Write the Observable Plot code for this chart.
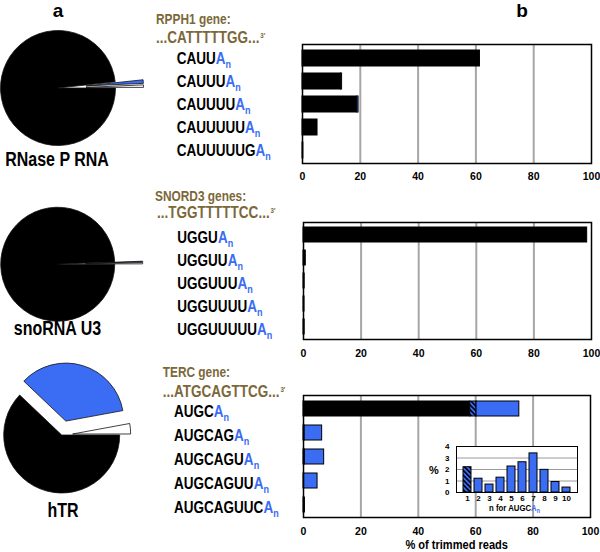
<!DOCTYPE html>
<html><head><meta charset="utf-8">
<script src="https://cdn.jsdelivr.net/npm/d3@7"></script>
<script src="https://cdn.jsdelivr.net/npm/@observablehq/plot@0.6"></script>
<style>
html,body{margin:0;padding:0;background:#fff;}
#fig{position:relative;width:600px;height:552px;overflow:hidden;background:#fff;}
#fig svg{position:absolute;}
</style></head><body><div id="fig"></div>
<script>
// ---------------- data ----------------
const pieNames = ["RNase P RNA", "snoRNA U3", "hTR"];
const pieParts = ["not adenylated", "adenylated", "other"];
const pieRNaseP = [98.3, 1.0, 0.7];
const pieU3 = [99.4, 0.2, 0.4];
const pieHTR = [62.1, 35.0, 2.9];

const rpph1Title = "RPPH1 gene:";
const rpph1Gene = "...CATTTTTGG...";
const rpph1Seqs = ["CAUU", "CAUUU", "CAUUUU", "CAUUUUU", "CAUUUUUG"];
const rpph1Plain = [61.4, 13.3, 19.0, 5.2, 0.3];
const rpph1Hatched = [0, 0, 0, 0, 0];
const rpph1Tail = [0, 0.4, 0.4, 0, 0];

const snord3Title = "SNORD3 genes:";
const snord3Gene = "...TGGTTTTTCC...";
const snord3Seqs = ["UGGU", "UGGUU", "UGGUUU", "UGGUUUU", "UGGUUUUU"];
const snord3Plain = [98.5, 0.8, 0.4, 0.35, 0.4];
const snord3Hatched = [0, 0, 0, 0, 0];
const snord3Tail = [0, 0, 0, 0, 0];

const tercTitle = "TERC gene:";
const tercGene = "...ATGCAGTTCG...";
const tercSeqs = ["AUGC", "AUGCAG", "AUGCAGU", "AUGCAGUU", "AUGCAGUUC"];
const tercPlain = [58.1, 0.4, 0.5, 0.2, 0.5];
const tercHatched = [2.2, 0, 0, 0, 0];
const tercTail = [14.9, 6.1, 6.7, 4.7, 0];

const xTicks = [0, 20, 40, 60, 80, 100];
const xTitle = "% of trimmed reads";

const insetN = ["1", "2", "3", "4", "5", "6", "7", "8", "9", "10"];
const insetPct = [2.2, 1.2, 0.69, 1.29, 2.26, 2.63, 3.4, 1.97, 0.91, 0.43];
const insetYTicks = [0, 1, 2, 3, 4];

// ---------------- style ----------------
const BLUE = "#3a6cf4", BROWN = "#7b6839";
const SANS = "'Liberation Sans',Arial,sans-serif";
const SX = 0.82; // horizontal squeeze to mimic a narrow bold face
const fig = document.getElementById("fig");

function place(svg, left, top) {
  svg.style.left = left + "px";
  svg.style.top = top + "px";
  fig.appendChild(svg);
}
function hatchDefs(id) {
  return () => {
    const defs = d3.create("svg:defs");
    const p = defs.append("pattern").attr("id", id).attr("patternUnits", "userSpaceOnUse")
      .attr("width", 3.4).attr("height", 3.4).attr("patternTransform", "rotate(-45)");
    p.append("rect").attr("width", 3.4).attr("height", 3.4).attr("fill", BLUE);
    p.append("rect").attr("width", 1.6).attr("height", 3.4).attr("fill", "black");
    return defs.node();
  };
}
function custom(fn) {
  return (index, scales, values, dims) => {
    const g = d3.create("svg:g");
    fn(g, scales, dims);
    return g.node();
  };
}
function ntext(g, x, y, fs, anchor = "start", fill = "black") {
  return g.append("g").attr("transform", `translate(${x},${y}) scale(${SX},1)`)
    .append("text").attr("text-anchor", anchor).attr("font-family", SANS)
    .attr("font-weight", "bold").attr("font-size", fs).attr("fill", fill);
}
function addAn(t, sub, dy) {
  t.append("tspan").attr("fill", BLUE).text("A");
  t.append("tspan").attr("fill", BLUE).attr("font-size", sub).attr("dy", dy).text("n");
}

// ---------------- pies ----------------
const pieColors = ["black", BLUE, "white"];
function pieMark(values, cx, cy, r, explode) {
  return custom((g) => {
    const arcs = d3.pie().sort(null).startAngle(Math.PI / 2).endAngle(Math.PI / 2 + 2 * Math.PI)(values);
    const arc = d3.arc().innerRadius(0).outerRadius(r);
    arcs.forEach((a, i) => {
      const mid = (a.startAngle + a.endAngle) / 2;
      const dx = Math.sin(mid) * explode[i], dy = -Math.cos(mid) * explode[i];
      g.append("path").attr("d", arc(a))
        .attr("transform", `translate(${cx + dx},${cy + dy})`)
        .attr("fill", pieColors[i]).attr("stroke", "#111").attr("stroke-width", 0.8)
        .attr("stroke-linejoin", "round");
    });
  });
}
const pieLabelPos = [[57, 165.7], [57.5, 335], [63, 516.7]];
const piePlot = Plot.plot({
  width: 150, height: 552, margin: 0,
  style: {background: "transparent", overflow: "visible"},
  marks: [
    pieMark(pieRNaseP, 58, 88, 57.5, [0, 28, 28]),
    pieMark(pieU3, 57.7, 264.2, 57, [0, 28, 28]),
    pieMark(pieHTR, 61.7, 435, 58, [0, 14.5, 11]),
    custom((g) => {
      g.append("text").attr("x", 58).attr("y", 17).attr("text-anchor", "middle")
        .attr("font-family", SANS).attr("font-weight", "bold").attr("font-size", 19).text("a");
      pieNames.forEach((n, i) => {
        ntext(g, pieLabelPos[i][0], pieLabelPos[i][1], 19.5, "middle").text(n);
      });
    })
  ]
});
place(piePlot, 0, 0);

// ---------------- bar panels ----------------
function rows(seqs, plain, hatched, tail) {
  const out = [];
  seqs.forEach((s, i) => {
    if (plain[i] > 0) out.push({seq: s, part: "plain", value: plain[i]});
    if (hatched[i] > 0) out.push({seq: s, part: "hatched", value: hatched[i]});
    if (tail[i] > 0) out.push({seq: s, part: "tail", value: tail[i]});
  });
  return out;
}
function barPanel(o) {
  const plot = Plot.plot({
    width: 450, height: o.height,
    marginTop: o.mt, marginBottom: o.mb, marginLeft: o.ml, marginRight: o.mr,
    style: {background: "transparent", fontFamily: SANS, fontSize: "10.5px", fontWeight: "bold", color: "black", overflow: "visible"},
    x: {domain: [0, 100], ticks: xTicks, tickSize: 0, tickPadding: o.tp, label: null},
    y: {domain: o.seqs, axis: null, paddingInner: o.pi, paddingOuter: o.po},
    color: {domain: ["plain", "hatched", "tail"], range: ["black", `url(#${o.hatchId})`, BLUE]},
    marks: [
      hatchDefs(o.hatchId),
      Plot.ruleX(xTicks.filter(t => t > 0 && t < 100), {stroke: "#a6a6a6", strokeWidth: 2}),
      Plot.barX(o.rows, Plot.stackX({y: "seq", x: "value", fill: "part", stroke: "black", strokeWidth: 1})),
      Plot.frame({stroke: "black", strokeWidth: 1.5}),
      custom((g, scales) => {
        ntext(g, o.titleX, o.titleY, 14.5, "start", BROWN).text(o.title);
        const gt = ntext(g, o.geneX, o.geneY, 16.5, "start", BROWN);
        gt.append("tspan").text(o.gene);
        gt.append("tspan").attr("font-size", 7.5).attr("dy", -5).attr("dx", 1).text("3′");
        const bw = scales.y.bandwidth();
        o.seqs.forEach(s => {
          const t = ntext(g, o.labelX, scales.y(s) + bw / 2 + 5.9 + o.labelDy, 16.5);
          t.append("tspan").text(s);
          addAn(t, 11, 4);
        });
        if (o.extra) o.extra(g, scales);
      })
    ]
  });
  place(plot, 150, o.top);
  return plot;
}

barPanel({
  seqs: rpph1Seqs, rows: rows(rpph1Seqs, rpph1Plain, rpph1Hatched, rpph1Tail),
  title: rpph1Title, gene: rpph1Gene, hatchId: "hatch1",
  top: 0, height: 190, mt: 44, mb: 27, ml: 152, mr: 9, pi: 0.32, po: 0.2, tp: 9,
  titleX: 6, titleY: 24, geneX: 6, geneY: 43.3, labelX: 26.7, labelDy: 0,
  extra: (g) => g.append("text").attr("x", 372).attr("y", 17).attr("text-anchor", "middle")
    .attr("font-family", SANS).attr("font-weight", "bold").attr("font-size", 19).text("b")
});
barPanel({
  seqs: snord3Seqs, rows: rows(snord3Seqs, snord3Plain, snord3Hatched, snord3Tail),
  title: snord3Title, gene: snord3Gene, hatchId: "hatch2",
  top: 185, height: 180, mt: 37, mb: 26, ml: 153, mr: 9, pi: 0.33, po: 0.15, tp: 10,
  titleX: 5, titleY: 15.7, geneX: 7, geneY: 33.3, labelX: 27.3, labelDy: 3
});
barPanel({
  seqs: tercSeqs, rows: rows(tercSeqs, tercPlain, tercHatched, tercTail),
  title: tercTitle, gene: tercGene, hatchId: "hatch3",
  top: 365, height: 187, mt: 30, mb: 35, ml: 153, mr: 10, pi: 0.39, po: 0.22, tp: 10,
  titleX: 12.7, titleY: 12.3, geneX: 12.7, geneY: 31.7, labelX: 24, labelDy: 3,
  extra: (g) => ntext(g, 306.7, 184.3, 13.5, "middle").text(xTitle)
});

// ---------------- inset ----------------
const insetRows = insetN.map((n, i) => ({n, pct: insetPct[i], kind: i === 0 ? "hatched" : "tail"}));
const inset = Plot.plot({
  width: 165, height: 80, marginLeft: 36, marginRight: 8, marginTop: 8, marginBottom: 26,
  style: {background: "transparent", fontFamily: SANS, fontSize: "8px", fontWeight: "bold", color: "black", overflow: "visible"},
  x: {domain: insetN, paddingInner: 0.28, paddingOuter: 0.2, tickSize: 0, tickPadding: 3, label: null},
  y: {domain: [0, 4], ticks: insetYTicks, tickFormat: d => String(d), tickSize: 0, tickPadding: 7, label: null},
  color: {domain: ["hatched", "tail"], range: ["url(#hatchInset)", BLUE]},
  marks: [
    hatchDefs("hatchInset"),
    Plot.frame({fill: "white", stroke: "none"}),
    Plot.ruleY([1, 2, 3], {stroke: "#9a9a9a", strokeWidth: 1}),
    Plot.barY(insetRows, {x: "n", y: "pct", fill: "kind", stroke: "black", strokeWidth: 1}),
    Plot.frame({stroke: "black", strokeWidth: 1}),
    custom((g) => {
      g.append("text").attr("x", 14).attr("y", 36).attr("text-anchor", "middle")
        .attr("font-family", SANS).attr("font-weight", "bold").attr("font-size", 11).text("%");
      const t = ntext(g, 69, 72.5, 9.5, "start");
      t.append("tspan").text("n for AUGC");
      addAn(t, 6.5, 2.5);
    })
  ]
});
place(inset, 420, 438);
</script></body></html>
